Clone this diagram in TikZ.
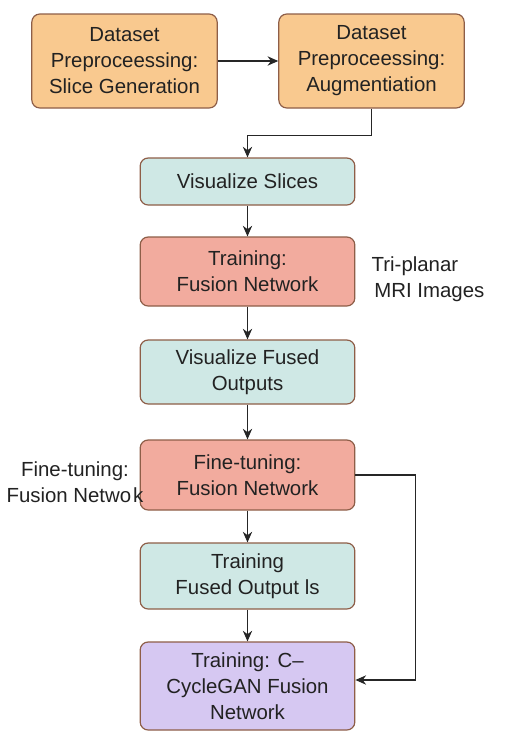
\documentclass[tikz,border=0pt]{standalone}
\usepackage{fontspec}
\usetikzlibrary{arrows.meta}
\setmainfont{Liberation Sans}
\definecolor{prepfill}{HTML}{F9C98F}
\definecolor{visfill}{HTML}{CFE8E5}
\definecolor{trainfill}{HTML}{F2AB9E}
\definecolor{ganfill}{HTML}{D6C8F2}
\definecolor{boxline}{HTML}{8E5E48}
\definecolor{txt}{HTML}{222222}
\begin{document}
\begin{tikzpicture}[x=0.75pt, y=-0.75pt,
        box/.style={rectangle, rounded corners=6pt, draw=boxline, line width=0.9pt, minimum width=161pt, inner sep=0pt, align=center, text=txt, font=\fontsize{15.3}{19.5}\selectfont},
        prep/.style={box, fill=prepfill, minimum width=139pt, minimum height=70.5pt},
        note/.style={text=txt, inner sep=0pt, font=\fontsize{15.3}{19.5}\selectfont},
        arrow/.style={-{Stealth[length=8pt, width=7pt]}, line width=0.9pt, draw=black!85}
    ]
        \fill[white] (0,0) rectangle (517,754);
        \useasboundingbox (0,0) rectangle (517,754);

        % Preprocessing
        \node[prep] (slices) at (124.5,61) {Dataset\\Preproceessing:\\Slice Generation};
        \node[prep] (augm) at (371.5,61) {Dataset\\Preproceessing:\\Augmentiation};

        % Main column
        \node[box, fill=visfill, minimum height=35.25pt] (vis) at (247.5,181.5) {Visualize Slices};
        \node[box, fill=trainfill, minimum height=51.75pt] (train) at (247.5,271.5) {Training:\\Fusion Network};
        \node[box, fill=visfill, minimum height=48pt] (visfused) at (247.5,372) {Visualize Fused\\Outputs};
        \node[box, fill=trainfill, minimum height=52.5pt] (finetune) at (247.5,475) {Fine-tuning:\\Fusion Network};
        \node[box, fill=visfill, minimum height=49.5pt] (trainfused) at (247.5,576) {Training\\Fused Output ls};
        \node[box, fill=ganfill, minimum height=66pt] (cgan) at (247.5,686) {Training: C--\\CycleGAN Fusion\\Network};

        % Side labels
        \node[note, align=left] (mri) at (428,279) {Tri-planar\\\hspace{2pt}MRI Images};
        \node[note, align=center] (ftlabel) at (75,482) {Fine-tuning:\\Fusion Netwo\hspace{1.5pt}k};

        % Arrows
        \draw[arrow] (slices) -- (augm);
        \draw[arrow] (augm.south) -- ++(0,27) -| (vis.north);
        \draw[arrow] (vis) -- (train);
        \draw[arrow] (train) -- (visfused);
        \draw[arrow] (visfused) -- (finetune);
        \draw[arrow] (finetune) -- (trainfused);
        \draw[arrow] (trainfused) -- (cgan);
        \draw[arrow] (finetune.east) -- ++(60,0) |- ([yshift=4.5pt]cgan.east);
    \end{tikzpicture}
\end{document}
